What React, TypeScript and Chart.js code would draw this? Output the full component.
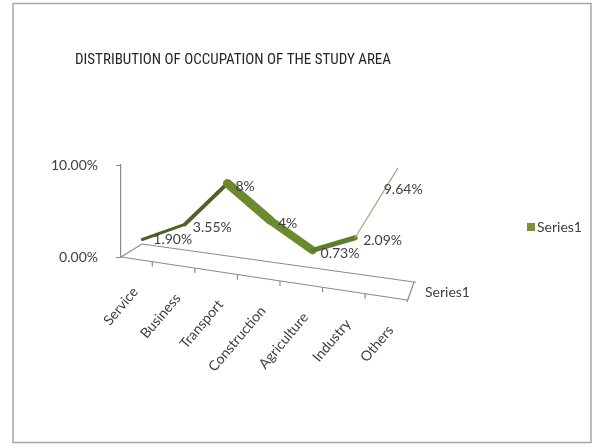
import React, { useEffect, useRef } from "react";
import { Chart, registerables } from "chart.js";

Chart.register(...registerables);

const chartTitle = "DISTRIBUTION OF OCCUPATION OF THE STUDY AREA";
const seriesName = "Series1";
const categories = ["Service", "Business", "Transport", "Construction", "Agriculture", "Industry", "Others"];
const values = [1.9, 3.55, 8, 4, 0.73, 2.09, 9.64];
const valueLabels = ["1.90%", "3.55%", "8%", "4%", "0.73%", "2.09%", "9.64%"];
const yMin = 0;
const yMax = 10;
const yStep = 10;

const TITLE_FONT = '"Roboto Condensed", Lato, sans-serif';
const FONT = 'Lato, "Roboto Condensed", sans-serif';
const TEXT = "#404040";
const AXIS = "#8a8a8a";
const GREEN = "#77933C";

const segWidths = [3, 4, 9, 8, 5, 1.2];
const segColors = ["#4F6228", "#4F6228", "#6B8A30", "#6B8A30", "#5E7E2A", "#9DAA78"];

const decoPlugin = {
  id: "deco",
  beforeDraw(chart: any) {
    const ctx = chart.ctx;
    ctx.save();
    ctx.fillStyle = "#ffffff";
    ctx.fillRect(0, 0, chart.width, chart.height);
    ctx.strokeStyle = "#a6a6a6";
    ctx.lineWidth = 1.5;
    ctx.strokeRect(13, 3.5, 578, 439);
    ctx.restore();
  },
  beforeDatasetsDraw(chart: any) {
    const ctx = chart.ctx;
    const a = chart.chartArea;
    const ys = chart.scales.y;
    const xs = chart.scales.x;
    const L = a.left;
    const B = ys.getPixelForValue(0);
    const R = a.right;
    const fx1 = R - 12;
    const fy1 = B + 43;
    const frontY = (x: number) => B + ((x - L) * (fy1 - B)) / (fx1 - L);
    ctx.save();
    ctx.strokeStyle = AXIS;
    ctx.lineWidth = 1.2;
    ctx.beginPath();
    ctx.moveTo(L, B);
    ctx.lineTo(L + 21, B - 13);
    ctx.lineTo(R - 5, B + 25);
    ctx.lineTo(R - 3, B + 25);
    ctx.moveTo(R - 5, B + 25);
    ctx.lineTo(fx1, fy1 + 2);
    ctx.moveTo(L, B);
    ctx.lineTo(fx1, fy1);
    ctx.stroke();
    ctx.beginPath();
    for (let i = 0; i < categories.length; i++) {
      const x = xs.getPixelForValue(i) + 10;
      if (x > fx1) continue;
      const y = frontY(x);
      ctx.moveTo(x, y);
      ctx.lineTo(x, y + 5);
    }
    ctx.stroke();
    ctx.restore();
  },
  afterDatasetsDraw(chart: any) {
    const ctx = chart.ctx;
    const a = chart.chartArea;
    const ys = chart.scales.y;
    const xs = chart.scales.x;
    const L = a.left;
    const B = ys.getPixelForValue(0);
    const R = a.right;
    const fx1 = R - 12;
    const fy1 = B + 43;
    const frontY = (x: number) => B + ((x - L) * (fy1 - B)) / (fx1 - L);
    const meta = chart.getDatasetMeta(0);
    ctx.save();
    ctx.fillStyle = TEXT;
    ctx.font = "normal 14px " + FONT;
    ctx.textBaseline = "middle";
    ctx.textAlign = "left";
    meta.data.forEach((pt: any, i: number) => {
      const last = i === meta.data.length - 1;
      const dx = last ? -14 : i === 0 ? 11 : 8;
      const dy = last ? 21 : i === 0 ? 0 : 3;
      ctx.fillText(valueLabels[i], pt.x + dx, pt.y + dy);
    });
    ctx.fillText(seriesName, R + 6, B + 35);
    for (let i = 0; i < categories.length; i++) {
      const px = xs.getPixelForValue(i);
      const ax = px - 7;
      const ay = frontY(px) + 29;
      ctx.save();
      ctx.translate(ax, ay);
      ctx.rotate(-0.87);
      ctx.textAlign = "right";
      ctx.textBaseline = "middle";
      ctx.fillText(categories[i], 0, 0);
      ctx.restore();
    }
    ctx.fillStyle = GREEN;
    ctx.fillRect(527, 223, 8, 8);
    ctx.fillStyle = TEXT;
    ctx.textAlign = "left";
    ctx.fillText(seriesName, 537, 227);
    ctx.restore();
  },
};

export default function App() {
  const ref = useRef<HTMLCanvasElement | null>(null);
  useEffect(() => {
    document.body.style.margin = "0";
    const canvas = ref.current;
    if (!canvas) return;
    const chart = new Chart(canvas, {
      type: "line",
      data: {
        labels: categories,
        datasets: [
          {
            label: seriesName,
            data: values,
            borderColor: GREEN,
            backgroundColor: GREEN,
            borderWidth: 5,
            pointRadius: 0,
            tension: 0,
            clip: false,
            borderCapStyle: "round",
            borderJoinStyle: "round",
            segment: {
              borderWidth: (c: any) => segWidths[c.p0DataIndex],
              borderColor: (c: any) => segColors[c.p0DataIndex],
            },
          } as any,
        ],
      },
      options: {
        responsive: false,
        animation: false,
        layout: { padding: { left: 47, right: 178, top: 0, bottom: 190 } },
        plugins: {
          legend: { display: false },
          tooltip: { enabled: false },
          title: {
            display: true,
            text: chartTitle,
            color: "#262626",
            font: { family: TITLE_FONT, size: 15, weight: "normal" },
            padding: { top: 51, bottom: 96 },
          },
        },
        scales: {
          x: {
            type: "category",
            display: false,
            offset: true,
          },
          y: {
            min: yMin,
            max: yMax,
            afterFit: (s: any) => {
              s.width = 74;
            },
            border: { display: true, color: AXIS, width: 1.2 },
            grid: { display: true, drawOnChartArea: false, drawTicks: true, tickLength: 5, color: AXIS },
            ticks: {
              stepSize: yStep,
              padding: 18,
              color: TEXT,
              font: { family: FONT, size: 14, weight: "normal" },
              callback: (v: any) => Number(v).toFixed(2) + "%",
            },
          },
        },
      } as any,
      plugins: [decoPlugin],
    });
    return () => chart.destroy();
  }, []);
  return (
    <div style={{ position: "absolute", left: 0, top: 0, width: 597, height: 447 }}>
      <canvas ref={ref} width={597} height={447} style={{ display: "block" }} />
    </div>
  );
}
